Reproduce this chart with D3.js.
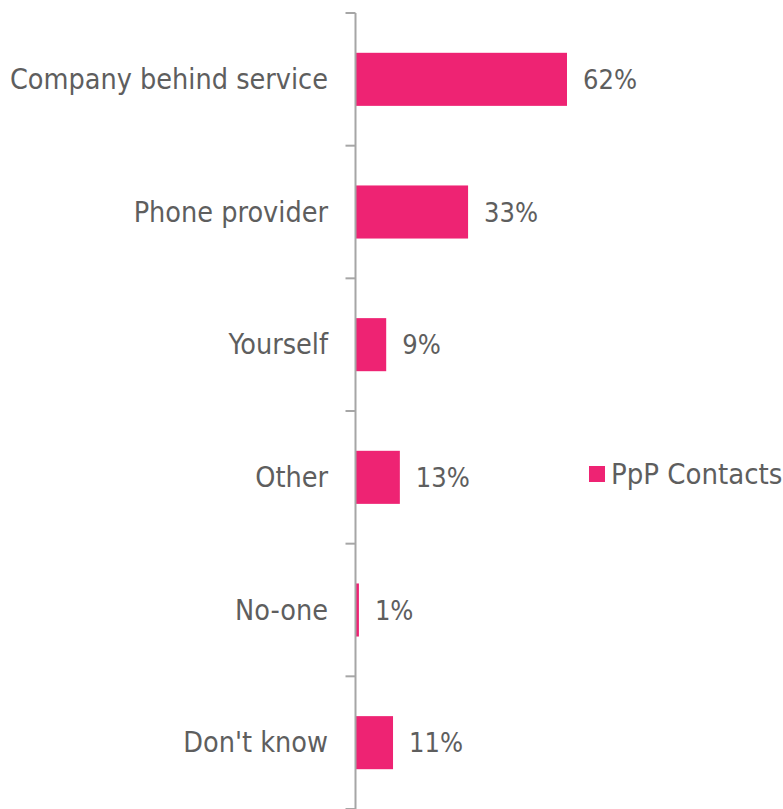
<!DOCTYPE html>
<html><head><meta charset="utf-8">
<script src="https://cdn.jsdelivr.net/npm/d3@7"></script>
<style>body{margin:0;background:#fff}</style></head>
<body><svg id="c" width="783" height="809"></svg>
<script>
const categories = ["Company behind service","Phone provider","Yourself","Other","No-one","Don't know"];
const values = [62,33,9,13,1,11];
const seriesName = "PpP Contacts";

const svg = d3.select("#c");
const axisX = 355.5, plotTop = 13, plotBottom = 809;
const y = d3.scaleBand().domain(categories).range([plotTop,plotBottom]).paddingInner(0.6).paddingOuter(0.3);
const x = d3.scaleLinear().domain([0,62]).range([axisX, 567]);
const font = "'DejaVu Sans Condensed', 'DejaVu Sans', sans-serif";
const textColor = "#5E5E5E";
const barColor = "#EE2373";

svg.selectAll("rect.bar").data(values).join("rect")
  .attr("class","bar")
  .attr("x", x(0))
  .attr("y",(d,i)=>y(categories[i]))
  .attr("width", d=>x(d)-x(0))
  .attr("height", y.bandwidth())
  .attr("fill", barColor);

const gap = (y.step()-y.bandwidth())/2;
const bounds = categories.map(c=>y(c)-gap).concat([y(categories[categories.length-1])+y.bandwidth()+gap]);
svg.append("line").attr("x1",axisX).attr("x2",axisX).attr("y1",bounds[0]).attr("y2",plotBottom)
  .attr("stroke","#A6A6A6").attr("stroke-width",2);
svg.selectAll("line.tick").data(bounds).join("line").attr("class","tick")
  .attr("x1",axisX-10).attr("x2",axisX).attr("y1",d=>d).attr("y2",d=>d)
  .attr("stroke","#A6A6A6").attr("stroke-width",2);

svg.selectAll("text.cat").data(categories).join("text").attr("class","cat")
  .attr("x", 328).attr("y", d=>y(d)+y.bandwidth()/2)
  .attr("text-anchor","end").attr("dominant-baseline","central")
  .attr("font-family",font).attr("font-size",28.5).attr("fill",textColor)
  .text(d=>d);

svg.selectAll("text.val").data(values).join("text").attr("class","val")
  .attr("x", d=>x(d)+16).attr("y", (d,i)=>y(categories[i])+y.bandwidth()/2)
  .attr("dominant-baseline","central")
  .attr("font-family",font).attr("font-size",27).attr("fill",textColor)
  .text(d=>d+"%");

const lg = svg.append("g").attr("transform","translate(589,466)");
lg.append("rect").attr("width",16).attr("height",16).attr("fill",barColor);
lg.append("text").attr("x",22).attr("y",8).attr("dominant-baseline","central")
  .attr("font-family",font).attr("font-size",29).attr("fill",textColor).text(seriesName);
</script></body></html>
